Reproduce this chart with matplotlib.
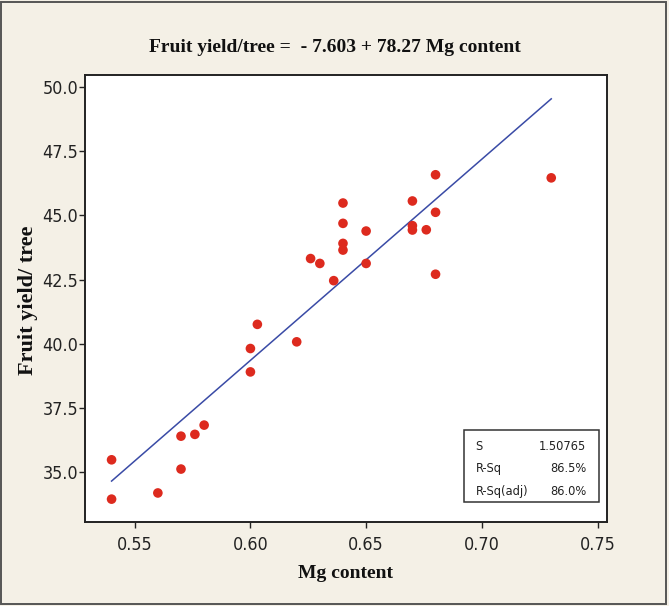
#!/usr/bin/env python3
# coding=utf-8

import numpy as np
import matplotlib
matplotlib.use("Agg")
from matplotlib import pyplot as plt
from matplotlib import font_manager
from matplotlib.patches import Rectangle

# Mg content vs fruit yield per tree
mg_content = [0.540, 0.540, 0.560, 0.570, 0.570, 0.576, 0.580, 0.600, 0.600, 0.603,
              0.620, 0.626, 0.630, 0.636, 0.640, 0.640, 0.640, 0.640, 0.650, 0.650,
              0.670, 0.670, 0.670, 0.676, 0.680, 0.680, 0.680, 0.730]
fruit_yield = [35.49, 33.96, 34.20, 36.41, 35.13, 36.48, 36.84, 39.82, 38.91, 40.76,
               40.08, 43.32, 43.13, 42.46, 45.48, 44.69, 43.91, 43.65, 44.39, 43.13,
               45.56, 44.60, 44.43, 44.44, 46.58, 45.12, 42.71, 46.46]

# regression: Fruit yield/tree = -7.603 + 78.27 Mg content
intercept = -7.603
slope = 78.27

stat_names = ["S", "R-Sq", "R-Sq(adj)"]
stat_values = ["1.50765", "86.5%", "86.0%"]

x_ticks = [0.55, 0.60, 0.65, 0.70, 0.75]
y_ticks = [35.0, 37.5, 40.0, 42.5, 45.0, 47.5, 50.0]

BG = "#F4F0E6"
SERIF = ["Liberation Serif", "DejaVu Serif"]


def narrow_font():
    """Pick a narrow sans font if one is installed."""
    installed = {f.name: f for f in font_manager.fontManager.ttflist}
    if "Liberation Sans Narrow" in installed:
        return dict(family="Liberation Sans Narrow"), 1.0
    condensed = [f for f in font_manager.fontManager.ttflist
                 if f.name == "DejaVu Sans" and f.stretch == "condensed"]
    if condensed:
        return dict(family="DejaVu Sans", stretch="condensed"), 0.92
    return dict(family="Liberation Sans"), 0.85


def main():
    sans, k = narrow_font()

    fig = plt.figure(figsize=(6.69, 6.06), dpi=100, facecolor=BG)
    ax = fig.add_axes([0.127, 0.1386, 0.780, 0.738])
    ax.set_facecolor("white")

    # fitted line over the data range
    xl = np.array([min(mg_content), max(mg_content)])
    ax.plot(xl, intercept + slope * xl, color="#3A4BA6", lw=1.1, zorder=2)

    ax.scatter(mg_content, fruit_yield, s=48, color="#DD2A1E", edgecolors="none", zorder=3)

    ax.set_xlim(0.5285, 0.754)
    ax.set_ylim(33.07, 50.47)
    ax.set_xticks(x_ticks)
    ax.set_xticklabels([f"{v:.2f}" for v in x_ticks])
    ax.set_yticks(y_ticks)
    ax.set_yticklabels([f"{v:.1f}" for v in y_ticks])
    ax.tick_params(axis="both", direction="out", length=4, width=1, color="#222222",
                   labelsize=14 * k)
    ax.tick_params(axis="x", pad=6)
    ax.tick_params(axis="y", pad=1)
    for lbl in ax.get_xticklabels() + ax.get_yticklabels():
        lbl.set_fontproperties(font_manager.FontProperties(size=14 * k, **sans))
        lbl.set_color("#222222")

    for sp in ax.spines.values():
        sp.set_linewidth(1.4)
        sp.set_color("#222222")

    # statistics box
    ax.add_patch(Rectangle((0.7266, 0.044), 0.2587, 0.1617, transform=ax.transAxes,
                           facecolor="white", edgecolor="#333333", lw=1.1, zorder=4))
    for i, (name, val) in enumerate(zip(stat_names, stat_values)):
        yy = 0.1684 - i * 0.0496
        ax.text(0.7485, yy, name, transform=ax.transAxes, fontsize=10 * k,
                ha="left", va="center", color="#222222", zorder=5, **sans)
        ax.text(0.961, yy, val, transform=ax.transAxes, fontsize=10 * k,
                ha="right", va="center", color="#222222", zorder=5, **sans)

    fig.text(0.5, 0.922, "Fruit yield/tree =  - 7.603 + 78.27 Mg content",
             fontsize=14, fontweight="bold", family=SERIF, ha="center", va="center",
             color="#111111")
    fig.text(0.516, 0.054, "Mg content", fontsize=14, fontweight="bold", family=SERIF,
             ha="center", va="center", color="#111111")
    fig.text(0.042, 0.505, "Fruit yield/ tree", fontsize=16, fontweight="bold",
             family=SERIF, ha="center", va="center", rotation=90, color="#111111")

    # outer frame of the picture
    fig.patches.append(Rectangle((0.002, 0.004), 0.994, 0.992, transform=fig.transFigure,
                                 fill=False, edgecolor="#555555", lw=1.4))

    fig.savefig("out.png", dpi=100, facecolor=BG)


if __name__ == "__main__":
    main()
